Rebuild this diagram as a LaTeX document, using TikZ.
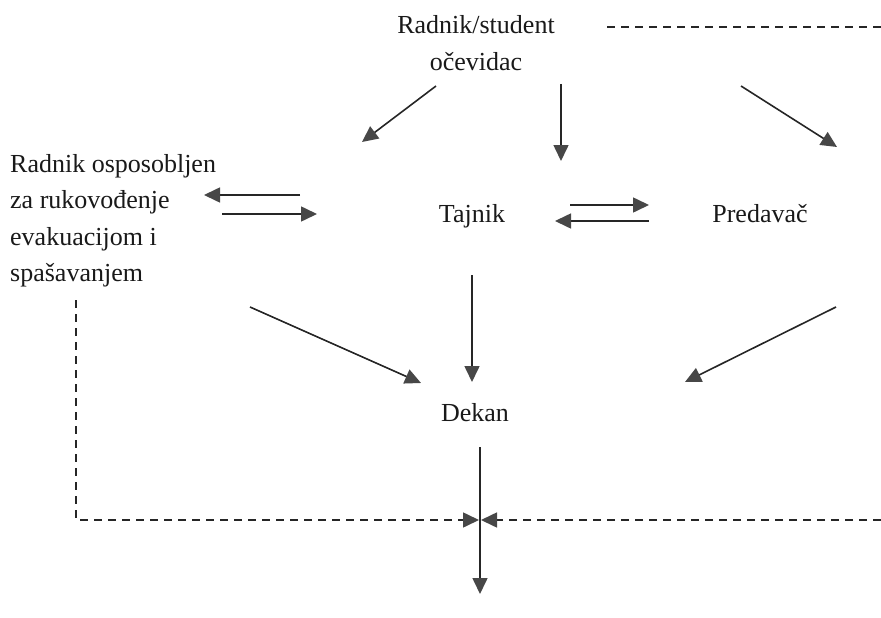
\documentclass[tikz,border=0pt]{standalone}
\usepackage{fontspec}
\setmainfont{Liberation Serif}
\usetikzlibrary{arrows.meta}
\begin{document}
\begin{tikzpicture}[x=1pt,y=-1pt,
  lbl/.style={font=\fontsize{26}{36.5}\selectfont, inner sep=0pt, text=black!90},
  tip/.style={-{Triangle[length=16pt,width=15pt,color=black!72,fill=black!72]}},
  arr/.style={draw=black!85, line width=1.6pt, tip},
  dsh/.style={draw=black!85, line width=1.6pt, dash pattern=on 8pt off 6pt}]
\useasboundingbox (0,0) rectangle (881,618);
% nodes
\node[lbl, align=center] (witness) at (476,43) {Radnik/student\\očevidac};
\node[lbl, align=left, anchor=north west] (leader) at (10,154) {Radnik osposobljen\\za rukovođenje\\evakuacijom i\\spašavanjem};
\node[lbl] (tajnik) at (472,216) {Tajnik};
\node[lbl] (predavac) at (760,214) {Predavač};
\node[lbl] (dekan) at (475,413) {Dekan};
% connector ends
\coordinate (wL) at (436,86);   \coordinate (lT) at (362,142);
\coordinate (wT) at (561,84);   \coordinate (tT) at (561,161);
\coordinate (wR) at (741,86);   \coordinate (pT) at (837,147);
\coordinate (tL1) at (300,195); \coordinate (lR1) at (204,195);
\coordinate (lR2) at (222,214); \coordinate (tL2) at (317,214);
\coordinate (tR1) at (570,205); \coordinate (pL1) at (649,205);
\coordinate (pL2) at (649,221); \coordinate (tR2) at (555,221);
\coordinate (tB) at (472,275);  \coordinate (dT) at (472,382);
\coordinate (lB) at (250,307);  \coordinate (dL) at (421,383);
\coordinate (pB) at (836,307);  \coordinate (dR) at (685,382);
\coordinate (dB) at (480,447);  \coordinate (out) at (480,594);
\coordinate (wE) at (607,27);   \coordinate (edgeT) at (881,27);
\coordinate (lD) at (76,300);   \coordinate (jL) at (479,520);
\coordinate (edgeB) at (881,520); \coordinate (jR) at (481,520);
% arrows
\draw[arr] (wL) -- (lT);
\draw[arr] (wT) -- (tT);
\draw[arr] (wR) -- (pT);
\draw[arr] (tL1) -- (lR1);
\draw[arr] (lR2) -- (tL2);
\draw[arr] (tR1) -- (pL1);
\draw[arr] (pL2) -- (tR2);
\draw[arr] (tB) -- (dT);
\draw[arr] (lB) -- (dL);
\draw[arr] (pB) -- (dR);
\draw[arr] (dB) -- (out);
% dashed
\draw[dsh] (wE) -- (edgeT);
\draw[dsh, tip] (lD) |- (jL);
\draw[dsh, tip] (edgeB) -- (jR);
\end{tikzpicture}
\end{document}
